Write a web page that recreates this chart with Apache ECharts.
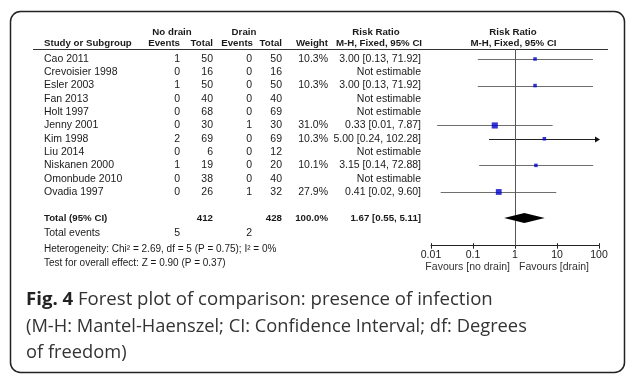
<!DOCTYPE html>
<html>
<head>
<meta charset="utf-8">
<script src="https://cdn.jsdelivr.net/npm/echarts@6/dist/echarts.min.js"></script>
<style>html,body{margin:0;padding:0;background:#fff}#c{width:629px;height:375px}</style>
</head>
<body>
<div id="c"></div>
<script>
// ---- data ----
var studies = ['Cao 2011','Crevoisier 1998','Esler 2003','Fan 2013','Holt 1997','Jenny 2001','Kim 1998','Liu 2014','Niskanen 2000','Omonbude 2010','Ovadia 1997'];
var noDrainEvents = [1,0,1,0,0,0,2,0,1,0,0];
var noDrainTotal  = [50,16,50,40,68,30,69,6,19,38,26];
var drainEvents   = [0,0,0,0,0,1,0,0,0,0,1];
var drainTotal    = [50,16,50,40,69,30,69,12,20,40,32];
var weights = [10.3,null,10.3,null,null,31.0,10.3,null,10.1,null,27.9];
var rr      = [3.00,null,3.00,null,null,0.33,5.00,null,3.15,null,0.41];
var ciLow   = [0.13,null,0.13,null,null,0.014,0.24,null,0.14,null,0.017];
var ciHigh  = [71.92,null,71.92,null,null,7.87,102.28,null,72.88,null,9.60];
var totalNoDrain = 412, totalDrain = 428, totalWeight = 100.0;
var pooled = [1.67, 0.55, 5.11];
var totalEventsNoDrain = 5, totalEventsDrain = 2;
var heterogeneity = {chi2: 2.69, df: 5, p: 0.75, i2: 0};
var overall = {z: 0.90, p: 0.37};
var xTicks = [0.01, 0.1, 1, 10, 100];
var xTickLabels = ['0.01','0.1','1','10','100'];

var FONT = '"Liberation Sans", Arial, sans-serif';
var REG = '10.5px ' + FONT;
var BOLD = 'bold 9.7px ' + FONT;
var TXT = '#1a1a1a';
var CAP = '"Open Sans", sans-serif';

var n = studies.length;
var rowTotal = n + 0.95;
var rowEvents = n + 2.12;
var Y_MAX = 14.04;

var colX = {study: 44, e1: 180, t1: 213, e2: 252, t2: 282, w: 328, ci: 421};

function fmtCI(est, lo, hi) {
  return est.toFixed(2) + ' [' + lo.toFixed(2) + ', ' + hi.toFixed(2) + ']';
}

var tableRows = [];
for (var i = 0; i < n; i++) tableRows.push([1, i, i]);
tableRows.push([1, rowTotal, -1]);
tableRows.push([1, rowEvents, -2]);

function txt(x, y, text, align, font) {
  return {type: 'text', x: x, y: y, style: {text: text, align: align, verticalAlign: 'middle', font: font || REG, fill: TXT}};
}

var chart = echarts.init(document.getElementById('c'), null, {renderer: 'canvas'});

var ciData = [], ptData = [];
var XMAX = xTicks[xTicks.length - 1];
for (var j = 0; j < n; j++) {
  if (rr[j] != null) {
    ciData.push([ciLow[j], j, Math.min(ciHigh[j], XMAX), ciHigh[j] > XMAX ? 1 : 0]);
    ptData.push({value: [rr[j], j], symbolSize: Math.sqrt(weights[j]) * 1.1});
  }
}
var tickData = xTicks.map(function (t) { return [t, Y_MAX]; });

var option = {
  animation: false,
  grid: {left: 431, right: 30, top: 49, bottom: 129.3},
  xAxis: {
    type: 'log', logBase: 10, min: 0.01, max: 100, position: 'bottom',
    axisLine: {show: true, onZero: false, lineStyle: {color: '#222', width: 1}},
    axisTick: {show: true, length: 3, lineStyle: {color: '#222'}},
    splitLine: {show: false},
    axisLabel: {margin: 4, fontSize: 10.5, fontFamily: FONT, color: TXT,
      formatter: function (v, idx) { return xTickLabels[idx]; }}
  },
  yAxis: {type: 'value', inverse: true, min: -0.75, max: Y_MAX, show: false},
  series: [
    {
      type: 'custom', name: 'table', silent: true, clip: false,
      data: tableRows,
      renderItem: function (params, api) {
        var y = api.coord([1, api.value(1)])[1];
        var k = api.value(2);
        var ch = [];
        if (k >= 0) {
          ch.push(txt(colX.study, y, studies[k], 'left'));
          ch.push(txt(colX.e1, y, String(noDrainEvents[k]), 'right'));
          ch.push(txt(colX.t1, y, String(noDrainTotal[k]), 'right'));
          ch.push(txt(colX.e2, y, String(drainEvents[k]), 'right'));
          ch.push(txt(colX.t2, y, String(drainTotal[k]), 'right'));
          if (rr[k] != null) {
            ch.push(txt(colX.w, y, weights[k].toFixed(1) + '%', 'right'));
            ch.push(txt(colX.ci, y, fmtCI(rr[k], ciLow[k], ciHigh[k]), 'right'));
          } else {
            ch.push(txt(colX.ci, y, 'Not estimable', 'right'));
          }
        } else if (k === -1) {
          ch.push(txt(colX.study, y, 'Total (95% CI)', 'left', BOLD));
          ch.push(txt(colX.t1, y, String(totalNoDrain), 'right', BOLD));
          ch.push(txt(colX.t2, y, String(totalDrain), 'right', BOLD));
          ch.push(txt(colX.w, y, totalWeight.toFixed(1) + '%', 'right', BOLD));
          ch.push(txt(colX.ci, y, fmtCI(pooled[0], pooled[1], pooled[2]), 'right', BOLD));
        } else {
          ch.push(txt(colX.study, y, 'Total events', 'left'));
          ch.push(txt(colX.e1, y, String(totalEventsNoDrain), 'right'));
          ch.push(txt(colX.e2, y, String(totalEventsDrain), 'right'));
        }
        return {type: 'group', children: ch};
      }
    },
    {
      type: 'custom', name: 'ci', silent: true, clip: false,
      data: ciData,
      renderItem: function (params, api) {
        var p1 = api.coord([api.value(0), api.value(1)]);
        var p2 = api.coord([api.value(2), api.value(1)]);
        var arrow = api.value(3) === 1;
        var col = arrow ? '#222' : '#6e6e6e';
        var yy = Math.round(p1[1]) + 0.5;
        var ch = [{type: 'line', shape: {x1: p1[0], y1: yy, x2: p2[0], y2: yy}, style: {stroke: col, lineWidth: 1}}];
        if (arrow) {
          ch.push({type: 'polygon', shape: {points: [[p2[0] + 1, yy], [p2[0] - 4, yy - 3], [p2[0] - 4, yy + 3]]}, style: {fill: '#111'}});
        }
        return {type: 'group', children: ch};
      },
      markLine: {
        silent: true, symbol: 'none', animation: false,
        label: {show: false},
        lineStyle: {color: '#555', width: 1, type: 'solid'},
        data: [{xAxis: 1}]
      }
    },
    {
      type: 'custom', name: 'upticks', silent: true, clip: false,
      data: tickData,
      renderItem: function (params, api) {
        var p = api.coord([api.value(0), api.value(1)]);
        var x = Math.round(p[0]) + 0.5;
        return {type: 'line', shape: {x1: x, y1: p[1], x2: x, y2: p[1] - 2.5}, style: {stroke: '#222', lineWidth: 1}};
      }
    },
    {
      type: 'scatter', name: 'points', silent: true,
      symbol: 'rect',
      itemStyle: {color: '#0000cc'},
      data: ptData,
      z: 5
    },
    {
      type: 'custom', name: 'pooled', silent: true, clip: false,
      data: [[pooled[0], rowTotal, pooled[1], pooled[2]]],
      renderItem: function (params, api) {
        var c = api.coord([api.value(0), api.value(1)]);
        var lo = api.coord([api.value(2), api.value(1)]);
        var hi = api.coord([api.value(3), api.value(1)]);
        return {type: 'polygon', shape: {points: [[lo[0], c[1]], [c[0], c[1] - 5], [hi[0], c[1]], [c[0], c[1] + 5]]}, style: {fill: '#000'}};
      },
      z: 6
    }
  ],
  graphic: [
    {type: 'rect', shape: {x: 10.5, y: 11.5, width: 614, height: 361, r: 10}, style: {fill: 'none', stroke: '#222', lineWidth: 1.5}, silent: true},
    {type: 'line', shape: {x1: 33, y1: 49.5, x2: 608, y2: 49.5}, style: {stroke: '#333', lineWidth: 1}, silent: true},
    // header row 1
    {type: 'text', x: 172, y: 32, style: {text: 'No drain', align: 'center', verticalAlign: 'middle', font: BOLD, fill: TXT}},
    {type: 'text', x: 244, y: 32, style: {text: 'Drain', align: 'center', verticalAlign: 'middle', font: BOLD, fill: TXT}},
    {type: 'text', x: 376, y: 32, style: {text: 'Risk Ratio', align: 'center', verticalAlign: 'middle', font: BOLD, fill: TXT}},
    {type: 'text', x: 513, y: 32, style: {text: 'Risk Ratio', align: 'center', verticalAlign: 'middle', font: BOLD, fill: TXT}},
    // header row 2
    {type: 'text', x: 44, y: 43, style: {text: 'Study or Subgroup', align: 'left', verticalAlign: 'middle', font: BOLD, fill: TXT}},
    {type: 'text', x: 180, y: 43, style: {text: 'Events', align: 'right', verticalAlign: 'middle', font: BOLD, fill: TXT}},
    {type: 'text', x: 213, y: 43, style: {text: 'Total', align: 'right', verticalAlign: 'middle', font: BOLD, fill: TXT}},
    {type: 'text', x: 253, y: 43, style: {text: 'Events', align: 'right', verticalAlign: 'middle', font: BOLD, fill: TXT}},
    {type: 'text', x: 282, y: 43, style: {text: 'Total', align: 'right', verticalAlign: 'middle', font: BOLD, fill: TXT}},
    {type: 'text', x: 328, y: 43, style: {text: 'Weight', align: 'right', verticalAlign: 'middle', font: BOLD, fill: TXT}},
    {type: 'text', x: 379, y: 43, style: {text: 'M-H, Fixed, 95% CI', align: 'center', verticalAlign: 'middle', font: BOLD, fill: TXT}},
    {type: 'text', x: 513.5, y: 43, style: {text: 'M-H, Fixed, 95% CI', align: 'center', verticalAlign: 'middle', font: BOLD, fill: TXT}},
    // footer
    {type: 'text', x: 44, y: 249, style: {text: 'Heterogeneity: Chi\u00b2 = ' + heterogeneity.chi2.toFixed(2) + ', df = ' + heterogeneity.df + ' (P = ' + heterogeneity.p.toFixed(2) + '); I\u00b2 = ' + heterogeneity.i2 + '%', align: 'left', verticalAlign: 'middle', font: '10px ' + FONT, fill: TXT}},
    {type: 'text', x: 44, y: 263, style: {text: 'Test for overall effect: Z = ' + overall.z.toFixed(2) + ' (P = ' + overall.p.toFixed(2) + ')', align: 'left', verticalAlign: 'middle', font: '10px ' + FONT, fill: TXT}},
    {type: 'text', x: 510, y: 267, style: {text: 'Favours [no drain]', align: 'right', verticalAlign: 'middle', font: REG, fill: '#333'}},
    {type: 'text', x: 519, y: 267, style: {text: 'Favours [drain]', align: 'left', verticalAlign: 'middle', font: REG, fill: '#333'}},
    // caption
    {type: 'text', x: 26, y: 300, style: {text: '{b|Fig. 4} Forest plot of comparison: presence of infection', rich: {b: {fontWeight: 'bold', fontSize: 18.6, fontFamily: CAP, fill: '#222'}}, align: 'left', verticalAlign: 'middle', fontSize: 18.6, fontFamily: CAP, fill: '#333'}},
    {type: 'text', x: 26, y: 327, style: {text: '(M-H: Mantel-Haenszel; CI: Confidence Interval; df: Degrees', align: 'left', verticalAlign: 'middle', fontSize: 18.3, fontFamily: CAP, fill: '#333'}},
    {type: 'text', x: 26, y: 353, style: {text: 'of freedom)', align: 'left', verticalAlign: 'middle', fontSize: 18.3, fontFamily: CAP, fill: '#333'}}
  ]
};
chart.setOption(option);
</script>
</body>
</html>
